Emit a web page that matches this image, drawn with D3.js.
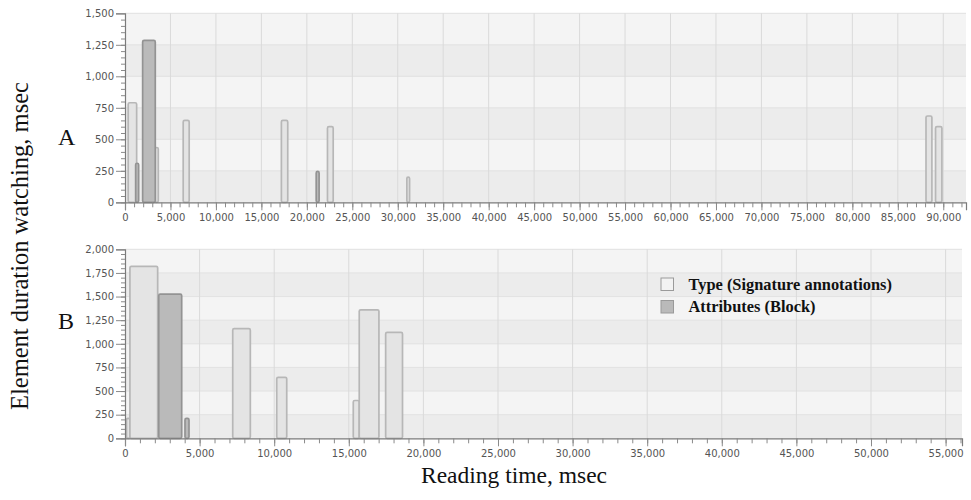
<!DOCTYPE html>
<html>
<head>
<meta charset="utf-8">
<script src="https://cdn.jsdelivr.net/npm/d3@7"></script>
<style>
  html, body { margin: 0; padding: 0; background: #fff; }
  svg { display: block; }
</style>
</head>
<body>
<svg id="chart" width="971" height="500"></svg>
<script>
// Panel A: reading intervals (msec) and element watching durations (msec)
const typeStartA = [350, 3330, 6400, 17200, 22270, 31000, 88100, 89150];
const typeEndA   = [1280, 3660, 7060, 17900, 22900, 31300, 88750, 89850];
const typeValueA = [790, 435, 650, 650, 600, 200, 685, 600];
const attrStartA = [1170, 1940, 21030];
const attrEndA   = [1500, 3330, 21350];
const attrValueA = [310, 1285, 245];

// Panel B
const typeStartB = [100, 330, 7220, 10170, 15300, 15700, 17470];
const typeEndB   = [330, 2190, 8400, 10840, 15700, 17020, 18600];
const typeValueB = [210, 1820, 1160, 645, 400, 1360, 1120];
const attrStartB = [2260, 4020];
const attrEndB   = [3800, 4290];
const attrValueB = [1525, 210];

// Axis ticks
const xTicksA = d3.range(0, 90001, 5000);
const yTicksA = [0, 250, 500, 750, 1000, 1250, 1500];
const xTicksB = d3.range(0, 55001, 5000);
const yTicksB = [0, 250, 500, 750, 1000, 1250, 1500, 1750, 2000];

const seriesNames = ["Type (Signature annotations)", "Attributes (Block)"];
const panelLabels = ["A", "B"];

const svg = d3.select("#chart");
const fmt = d3.format(",");

const typeStyle = { fill: "#e4e4e4", stroke: "#b7b7b7" };
const attrStyle = { fill: "#bababa", stroke: "#939393" };

function rows(starts, ends, values) {
  return starts.map((s, i) => ({ start: s, end: ends[i], value: values[i] }));
}

function drawPanel(cfg) {
  const x = d3.scaleLinear().domain([0, cfg.xMax]).range([cfg.left, cfg.right]);
  const y = d3.scaleLinear().domain([0, cfg.yMax]).range([cfg.bottom, cfg.top]);
  const g = svg.append("g");

  // plot background with alternating bands
  g.append("rect")
    .attr("x", cfg.left).attr("y", cfg.top)
    .attr("width", cfg.right - cfg.left).attr("height", cfg.bottom - cfg.top)
    .attr("fill", "#f4f4f4");
  const bands = d3.pairs(cfg.yTicks);
  g.selectAll(".band").data(bands).join("rect")
    .attr("x", cfg.left)
    .attr("y", d => y(d[1]))
    .attr("width", cfg.right - cfg.left)
    .attr("height", d => y(d[0]) - y(d[1]))
    .attr("fill", (d, i) => i % 2 === 0 ? "#ececec" : "#f4f4f4");

  // grid lines
  g.selectAll(".hgrid").data(cfg.yTicks.slice(1)).join("line")
    .attr("x1", cfg.left).attr("x2", cfg.right)
    .attr("y1", d => y(d)).attr("y2", d => y(d))
    .attr("stroke", "#e2e2e2").attr("stroke-width", 1);
  g.selectAll(".vgrid").data(cfg.xTicks.slice(1)).join("line")
    .attr("x1", d => x(d)).attr("x2", d => x(d))
    .attr("y1", cfg.top).attr("y2", cfg.bottom)
    .attr("stroke", "#dadada").attr("stroke-width", 1);

  // bars: each spans its reading interval
  function bars(data, style) {
    g.append("g").selectAll("rect").data(data).join("rect")
      .attr("x", d => x(d.start))
      .attr("y", d => y(d.value))
      .attr("width", d => Math.max(1, x(d.end) - x(d.start)))
      .attr("height", d => y(0) - y(d.value))
      .attr("rx", 1.5)
      .attr("fill", style.fill)
      .attr("stroke", style.stroke)
      .attr("stroke-width", 1.7);
  }
  bars(cfg.typeData, typeStyle);
  bars(cfg.attrData, attrStyle);

  // axes
  const tickFont = "DejaVu Sans, Verdana, sans-serif";
  g.append("g")
    .attr("transform", `translate(0,${cfg.bottom})`)
    .call(d3.axisBottom(x).tickValues(cfg.xTicks).tickFormat(fmt).tickSize(8).tickPadding(4));
  g.append("g")
    .attr("transform", `translate(0,${cfg.bottom})`)
    .call(d3.axisBottom(x).tickValues(d3.range(0, cfg.xMax, 1000)).tickFormat("").tickSize(5))
    .call(a => a.select(".domain").remove());
  g.append("g")
    .attr("transform", `translate(${cfg.left},0)`)
    .call(d3.axisLeft(y).tickValues(cfg.yTicks).tickFormat(fmt).tickSize(9).tickPadding(2));
  g.append("g")
    .attr("transform", `translate(${cfg.left},0)`)
    .call(d3.axisLeft(y).tickValues(d3.range(0, cfg.yMax, 50)).tickFormat("").tickSize(4))
    .call(a => a.select(".domain").remove());

  g.selectAll(".domain").attr("stroke", "#7a7a7a").attr("stroke-width", 1.2);
  g.selectAll(".tick line").attr("stroke", "#8a8a8a");
  g.selectAll(".tick text")
    .attr("font-family", tickFont).attr("font-size", 10).attr("fill", "#555");

  // panel letter
  svg.append("text")
    .attr("x", 58).attr("y", cfg.labelY)
    .attr("font-family", "Liberation Serif, Times New Roman, serif")
    .attr("font-size", 24).attr("fill", "#111")
    .text(cfg.label);
}

drawPanel({
  left: 125, right: 966, top: 13.3, bottom: 202.3,
  xMax: 92500, yMax: 1500, xTicks: xTicksA, yTicks: yTicksA,
  typeData: rows(typeStartA, typeEndA, typeValueA),
  attrData: rows(attrStartA, attrEndA, attrValueA),
  label: panelLabels[0], labelY: 145
});

drawPanel({
  left: 125, right: 962, top: 249.3, bottom: 438.3,
  xMax: 56100, yMax: 2000, xTicks: xTicksB, yTicks: yTicksB,
  typeData: rows(typeStartB, typeEndB, typeValueB),
  attrData: rows(attrStartB, attrEndB, attrValueB),
  label: panelLabels[1], labelY: 329
});

// legend
const legend = svg.append("g").attr("transform", "translate(661,278)");
[typeStyle, attrStyle].forEach((s, i) => {
  legend.append("rect")
    .attr("x", 0).attr("y", i * 22.5)
    .attr("width", 12.5).attr("height", 12.5)
    .attr("fill", i === 0 ? "#f2f2f2" : s.fill)
    .attr("stroke", "#9a9a9a").attr("stroke-width", 1);
  legend.append("text")
    .attr("x", 27.5).attr("y", 11.8 + i * 22.5)
    .attr("font-family", "Liberation Serif, Times New Roman, serif")
    .attr("font-weight", "bold").attr("font-size", 16.4).attr("fill", "#111")
    .text(seriesNames[i]);
});

// axis titles
svg.append("text")
  .attr("transform", "translate(28,246) rotate(-90)")
  .attr("text-anchor", "middle")
  .attr("font-family", "Liberation Serif, Times New Roman, serif")
  .attr("font-size", 24.5).attr("fill", "#111")
  .text("Element duration watching, msec");

svg.append("text")
  .attr("x", 514).attr("y", 483)
  .attr("text-anchor", "middle")
  .attr("font-family", "Liberation Serif, Times New Roman, serif")
  .attr("font-size", 23.5).attr("fill", "#111")
  .text("Reading time, msec");
</script>
</body>
</html>
